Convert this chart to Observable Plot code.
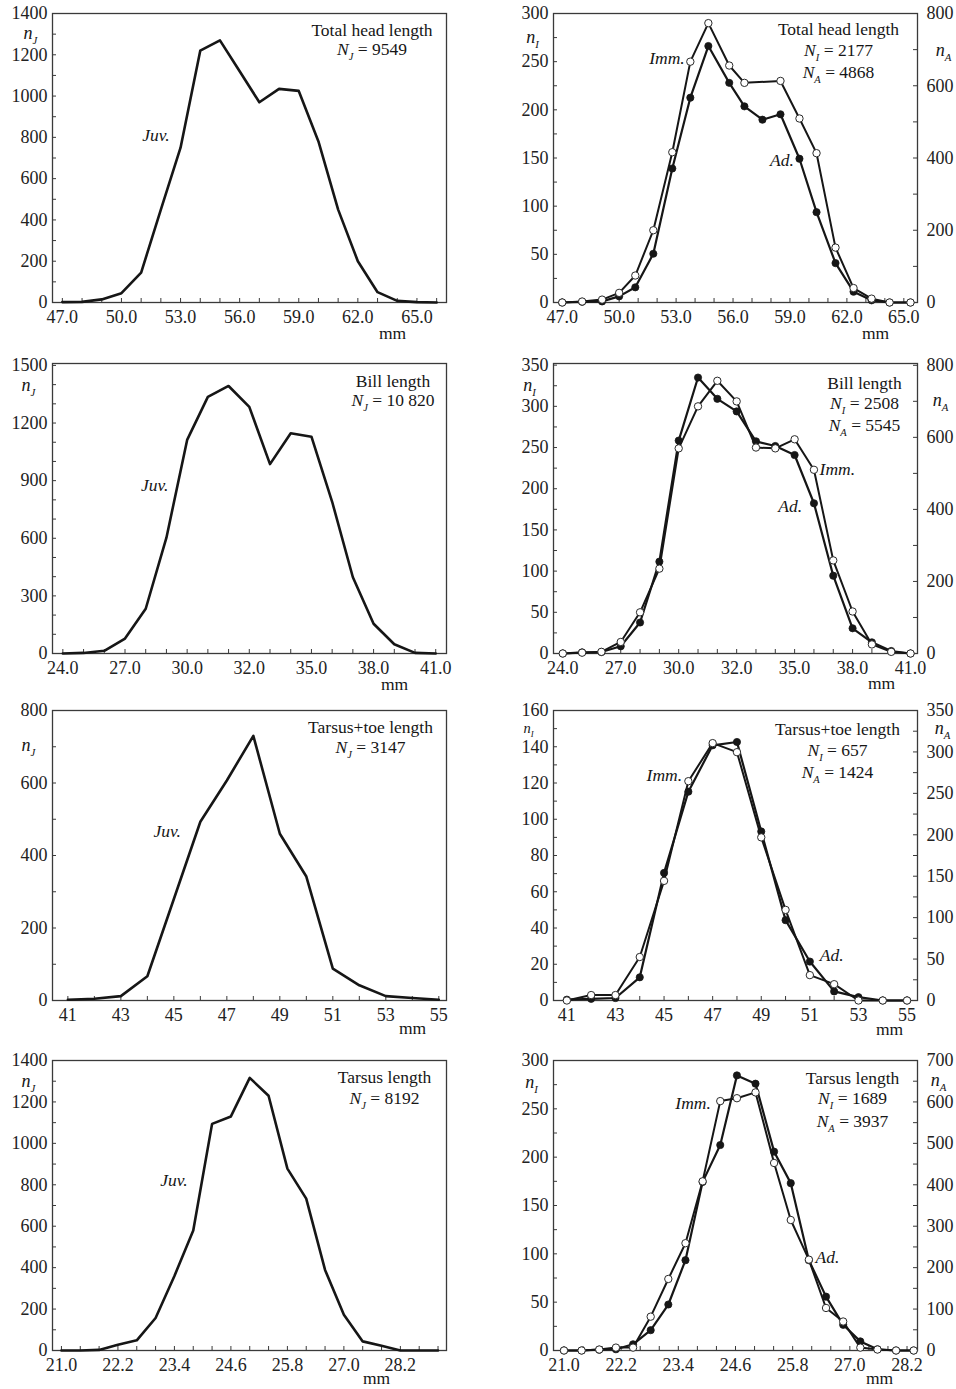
<!DOCTYPE html>
<html>
<head>
<meta charset="utf-8">
<script src="https://cdn.jsdelivr.net/npm/d3@7"></script>
<script src="https://cdn.jsdelivr.net/npm/@observablehq/plot@0.6"></script>
<style>
html, body { margin: 0; padding: 0; background: #fff; overflow: hidden; }
#chart { position: relative; width: 956px; height: 1389px; }
#chart svg { position: absolute; }
</style>
</head>
<body>
<div id="chart"></div>
<script>
// ---------------- DATA ----------------
// Total head length
const headX        = [47, 48, 49, 50, 51, 52, 53, 54, 55, 56, 57, 58, 59, 60, 61, 62, 63, 64, 65, 66];
const headJuv      = [2, 3, 15, 45, 145, 450, 750, 1220, 1270, 1120, 970, 1035, 1025, 780, 450, 200, 50, 8, 2, 0];
const headRX       = [47.0, 48.05, 49.1, 50.0, 50.85, 51.8, 52.8, 53.75, 54.7, 55.8, 56.6, 57.55, 58.5, 59.5, 60.4, 61.4, 62.35, 63.3, 64.25, 65.35];
const headImm      = [0, 1, 3, 10, 28, 75, 156, 250, 290, 246, 228, null, 230, 191, 155, 57, 15, 4, 0, 0];
const headAd       = [0, 2, 3, 17, 42, 135, 371, 567, 710, 608, 543, 506, 521, 398, 250, 109, 30, 6, 0, 0];
const headTickPos  = [47, 50, 53, 56, 59, 62, 65];
const headTickLab  = ["47.0", "50.0", "53.0", "56.0", "59.0", "62.0", "65.0"];

// Bill length (bins drawn at equal spacing, labelled every third bin)
const billX        = [0, 1, 2, 3, 4, 5, 6, 7, 8, 9, 10, 11, 12, 13, 14, 15, 16, 17, 18];
const billJuv      = [0, 3, 14, 78, 233, 603, 1112, 1336, 1393, 1284, 986, 1147, 1129, 790, 397, 155, 48, 3, 0];
const billImm      = [0, 1, 2, 14, 50, 103, 249, 300, 331, 306, 250, 249, 260, 223, 113, 51, 11, 2, 0];
const billAd       = [0, 3, 4, 20, 86, 255, 591, 766, 707, 672, 589, 576, 551, 417, 216, 70, 31, 7, 0];
const billTickPos  = [0, 3, 6, 9, 12, 15, 18];
const billTickLab  = ["24.0", "27.0", "30.0", "32.0", "35.0", "38.0", "41.0"];

// Tarsus+toe length
const toeX         = [41, 42, 43, 44, 45, 46, 47, 48, 49, 50, 51, 52, 53, 54, 55];
const toeJuv       = [2, 5, 12, 67, 280, 493, 607, 730, 460, 342, 88, 42, 12, 7, 2];
const toeImm       = [0, 3, 3, 24, 66, 121, 142, 137, 90, 50, 14, 9, 0, 0, 0];
const toeAd        = [1, 2, 3, 28, 154, 252, 308, 312, 204, 97, 47, 11, 4, 0, 0];
const toeTickPos   = [41, 43, 45, 47, 49, 51, 53, 55];
const toeTickLab   = ["41", "43", "45", "47", "49", "51", "53", "55"];

// Tarsus length
const tarsX        = [21.0, 21.4, 21.8, 22.2, 22.6, 23.0, 23.4, 23.8, 24.2, 24.6, 25.0, 25.4, 25.8, 26.2, 26.6, 27.0, 27.4, 27.8, 28.2, 28.6, 29.0];
const tarsJuv      = [0, 0, 3, 28, 49, 157, 360, 579, 1094, 1130, 1316, 1230, 878, 733, 389, 173, 44, 23, 0, 0, 0];
const tarsRX       = [21.0, 21.37, 21.74, 22.09, 22.45, 22.82, 23.19, 23.55, 23.91, 24.28, 24.63, 25.02, 25.41, 25.76, 26.14, 26.5, 26.86, 27.22, 27.58, 27.97, 28.34];
const tarsImm      = [0, 0, 1, 3, 3, 35, 74, 111, 175, 258, 261, 267, 194, 135, 94, 44, 30, 3, 1, 0, 0];
const tarsAd       = [0, 0, 2, 3, 15, 49, 111, 218, 407, 496, 664, 644, 480, 404, 218, 130, 62, 22, 3, 0, 0];
const tarsTickPos  = [21.0, 22.2, 23.4, 24.6, 25.8, 27.0, 28.2];
const tarsTickLab  = ["21.0", "22.2", "23.4", "24.6", "25.8", "27.0", "28.2"];

// Titles
const titles = {
  head: ["Total head length", "N_J = 9549", "N_I = 2177", "N_A = 4868"],
  bill: ["Bill length", "N_J = 10 820", "N_I = 2508", "N_A = 5545"],
  toe:  ["Tarsus+toe length", "N_J = 3147", "N_I = 657", "N_A = 1424"],
  tars: ["Tarsus length", "N_J = 8192", "N_I = 1689", "N_A = 3937"]
};

// ---------------- HELPERS ----------------
const FONT = "'Liberation Serif', 'Times New Roman', serif";
const INK = "#161616";
const AXC = "#3a3a3a";
const TICKFS = 18;
const chart = document.getElementById("chart");

function rows(xs, ys) {
  return xs.map((x, i) => ({x, y: ys[i]})).filter(d => d.y != null);
}
function range(a, b, s) {
  return d3.range(0, Math.round((b - a) / s) + 1).map(i => +(a + i * s).toFixed(4));
}
function place(svg, left, top) {
  svg.style.left = left + "px";
  svg.style.top = top + "px";
  chart.appendChild(svg);
  subscripts(svg);
}
function subscripts(svg) {
  const ns = "http://www.w3.org/2000/svg";
  for (const t of svg.querySelectorAll("text")) {
    const m = /^([A-Za-z])_([A-Z])(.*)$/.exec(t.textContent);
    if (!m) continue;
    const fs = parseFloat(getComputedStyle(t).fontSize) || 17;
    while (t.firstChild) t.removeChild(t.firstChild);
    const mk = (txt, attrs) => {
      const e = document.createElementNS(ns, "tspan");
      for (const k in attrs) e.setAttribute(k, attrs[k]);
      e.textContent = txt;
      t.appendChild(e);
    };
    mk(m[1], {"font-style": "italic"});
    mk(m[2], {"font-style": "italic", "font-size": (fs * 0.6).toFixed(1), "dy": (fs * 0.28).toFixed(1)});
    if (m[3]) mk(m[3], {"dy": (-fs * 0.28).toFixed(1)});
  }
}
function commonText(lines, dx, dys, size = 17.5) {
  return lines.map((s, i) => Plot.text([s], {
    frameAnchor: "top-right", dx, dy: dys[i], text: d => d,
    textAnchor: "middle", lineAnchor: "middle", fontSize: size, fill: INK
  }));
}

// geometry
const rowsGeo = [
  {frameTop: 13, frameH: 289},
  {frameTop: 363, frameH: 290},
  {frameTop: 710, frameH: 290},
  {frameTop: 1060, frameH: 290}
];
const MT = 13, MB = 40, W = 478;

function leftPanel(p) {
  const g = rowsGeo[p.row];
  const mL = 52, mR = 32;
  const frameW = W - mL - mR;
  const lab = new Map(p.xTickPos.map((v, i) => [v, p.xTickLab[i]]));
  const svg = Plot.plot({
    width: W, height: MT + g.frameH + MB,
    marginLeft: mL, marginRight: mR, marginTop: MT, marginBottom: MB,
    style: {fontFamily: FONT, fontSize: "18px", color: "#222", background: "transparent", overflow: "visible"},
    x: {domain: p.xDomain},
    y: {domain: p.yDomain},
    marks: [
      Plot.tickX(p.xMinor, {x: d => d, stroke: AXC, strokeWidth: 1, insetTop: g.frameH - 4}),
      Plot.tickY(p.yMinor, {y: d => d, stroke: AXC, strokeWidth: 1, insetRight: frameW - 4}),
      Plot.axisX(p.xTickPos, {tickSize: 0, tickPadding: 8, tickFormat: d => lab.get(d), fontSize: TICKFS, label: null}),
      Plot.axisY(p.yTicks, {tickSize: 0, tickPadding: 5, tickFormat: d => String(d), fontSize: TICKFS, label: null}),
      Plot.frame({stroke: AXC, strokeWidth: 1.3}),
      Plot.line(rows(p.x, p.juv), {x: "x", y: "y", stroke: INK, strokeWidth: 2.6}),
      Plot.text(p.labels, {x: "x", y: "y", text: "t", fontStyle: "italic", fontSize: 17.5, textAnchor: "middle", fill: INK}),
      ...commonText(p.title, p.tDx, p.tDy),
      Plot.text(["n_J"], {frameAnchor: "top-left", dx: p.nDx, dy: p.nDy, text: d => d, fontSize: 18, textAnchor: "middle", lineAnchor: "middle", fill: INK}),
      Plot.text(["mm"], {frameAnchor: "bottom-right", dx: p.mmDx, dy: p.mmDy, text: d => d, fontSize: 17.5, textAnchor: "middle", lineAnchor: "middle", fill: INK})
    ]
  });
  place(svg, 0, g.frameTop - MT);
}

function rightPanel(p) {
  const g = rowsGeo[p.row];
  const mL = 75, mR = 39;
  const frameW = W - mL - mR;
  const H = MT + g.frameH + MB;
  const lab = new Map(p.xTickPos.map((v, i) => [v, p.xTickLab[i]]));
  const base = {
    width: W, height: H,
    marginLeft: mL, marginRight: mR, marginTop: MT, marginBottom: MB,
    style: {fontFamily: FONT, fontSize: "18px", color: "#222", background: "transparent", overflow: "visible"}
  };
  // adults: right axis
  const adSvg = Plot.plot({
    ...base,
    x: {domain: p.xDomain},
    y: {domain: p.y2Domain},
    marks: [
      Plot.tickX(p.xMinor, {x: d => d, stroke: AXC, strokeWidth: 1, insetTop: g.frameH - 4}),
      Plot.tickY(p.y2Minor, {y: d => d, stroke: AXC, strokeWidth: 1, insetLeft: frameW - 4}),
      Plot.axisX(p.xTickPos, {tickSize: 0, tickPadding: 8, tickFormat: d => lab.get(d), fontSize: TICKFS, label: null}),
      Plot.axisY(p.y2Ticks, {anchor: "right", tickSize: 0, tickPadding: 9, tickFormat: d => String(d), fontSize: TICKFS, label: null}),
      Plot.frame({stroke: AXC, strokeWidth: 1.3}),
      Plot.line(rows(p.adX, p.ad), {x: "x", y: "y", stroke: INK, strokeWidth: 2.2}),
      Plot.dot(rows(p.adX, p.ad), {x: "x", y: "y", r: 3.6, fill: INK, stroke: INK, strokeWidth: 0.8}),
      Plot.text(["n_A"], {frameAnchor: "top-right", dx: p.aDx, dy: p.aDy, text: d => d, fontSize: 18, textAnchor: "middle", lineAnchor: "middle", fill: INK})
    ]
  });
  place(adSvg, W, g.frameTop - MT);
  // immatures: left axis
  const imSvg = Plot.plot({
    ...base,
    x: {domain: p.xDomain, axis: null},
    y: {domain: p.yDomain},
    marks: [
      Plot.tickY(p.yMinor, {y: d => d, stroke: AXC, strokeWidth: 1, insetRight: frameW - 4}),
      Plot.axisY(p.yTicks, {tickSize: 0, tickPadding: 5, tickFormat: d => String(d), fontSize: TICKFS, label: null}),
      Plot.line(rows(p.imX, p.imm), {x: "x", y: "y", stroke: INK, strokeWidth: 2}),
      Plot.dot(rows(p.imX, p.imm), {x: "x", y: "y", r: 3.7, fill: "white", stroke: "#2a2a2a", strokeWidth: 1}),
      Plot.text(p.labels, {x: "x", y: "y", text: "t", fontStyle: "italic", fontSize: 17.5, textAnchor: "middle", fill: INK}),
      ...commonText(p.title, p.tDx, p.tDy),
      Plot.text(["n_I"], {frameAnchor: "top-left", dx: p.nDx, dy: p.nDy, text: d => d, fontSize: p.nFs || 18, textAnchor: "middle", lineAnchor: "middle", fill: INK}),
      Plot.text(["mm"], {frameAnchor: "bottom-right", dx: p.mmDx, dy: p.mmDy, text: d => d, fontSize: 17.5, textAnchor: "middle", lineAnchor: "middle", fill: INK})
    ]
  });
  place(imSvg, W, g.frameTop - MT);
}

// ---------------- PANELS ----------------
// Row 1: Total head length
leftPanel({
  row: 0, x: headX, juv: headJuv,
  xDomain: [46.5, 66.5], yDomain: [0, 1400],
  xTickPos: headTickPos, xTickLab: headTickLab, xMinor: headX,
  yTicks: range(0, 1400, 200), yMinor: range(0, 1400, 100),
  labels: [{x: 51.75, y: 810, t: "Juv."}],
  title: [titles.head[0], titles.head[1]], tDx: -74.5, tDy: [17, 36],
  nDx: -22, nDy: 20, mmDx: -54, mmDy: 31
});
rightPanel({
  row: 0, imX: headRX, imm: headImm, adX: headRX, ad: headAd,
  xDomain: [46.54, 65.72], yDomain: [0, 300], y2Domain: [0, 800],
  xTickPos: headTickPos, xTickLab: headTickLab, xMinor: range(47, 65, 1),
  yTicks: range(0, 300, 50), yMinor: range(0, 300, 25),
  y2Ticks: range(0, 800, 200), y2Minor: range(0, 800, 100),
  labels: [{x: 52.52, y: 253, t: "Imm."}, {x: 58.58, y: 148, t: "Ad."}],
  title: [titles.head[0], titles.head[2], titles.head[3]], tDx: -79, tDy: [16, 37, 59],
  nDx: -21, nDy: 24, aDx: 26, aDy: 37, mmDx: -42, mmDy: 31
});

// Row 2: Bill length
leftPanel({
  row: 1, x: billX, juv: billJuv,
  xDomain: [-0.5, 18.52], yDomain: [0, 1510],
  xTickPos: billTickPos, xTickLab: billTickLab, xMinor: billX,
  yTicks: range(0, 1500, 300), yMinor: range(0, 1500, 100),
  labels: [{x: 4.43, y: 874, t: "Juv."}],
  title: [titles.bill[0], titles.bill[1]], tDx: -53.5, tDy: [18, 37],
  nDx: -24, nDy: 22, mmDx: -52, mmDy: 31
});
rightPanel({
  row: 1, imX: billX, imm: billImm, adX: billX, ad: billAd,
  xDomain: [-0.48, 18.36], yDomain: [0, 352], y2Domain: [0, 805],
  xTickPos: billTickPos, xTickLab: billTickLab, xMinor: billX,
  yTicks: range(0, 350, 50), yMinor: range(0, 350, 25),
  y2Ticks: range(0, 800, 200), y2Minor: range(0, 800, 100),
  labels: [{x: 14.21, y: 224, t: "Imm."}, {x: 11.77, y: 179, t: "Ad."}],
  title: [titles.bill[0], titles.bill[2], titles.bill[3]], tDx: -53, tDy: [20, 40, 62],
  nDx: -24, nDy: 22, aDx: 23, aDy: 37, mmDx: -36, mmDy: 30
});

// Row 3: Tarsus+toe length
leftPanel({
  row: 2, x: toeX, juv: toeJuv,
  xDomain: [40.42, 55.29], yDomain: [0, 800],
  xTickPos: toeTickPos, xTickLab: toeTickLab, xMinor: toeX,
  yTicks: range(0, 800, 200), yMinor: range(0, 800, 100),
  labels: [{x: 44.75, y: 467, t: "Juv."}],
  title: [titles.toe[0], titles.toe[1]], tDx: -76, tDy: [17, 37],
  nDx: -24, nDy: 35, mmDx: -34, mmDy: 28
});
rightPanel({
  row: 2, imX: toeX, imm: toeImm, adX: toeX, ad: toeAd,
  xDomain: [40.45, 55.43], yDomain: [0, 160], y2Domain: [0, 350],
  xTickPos: toeTickPos, xTickLab: toeTickLab, xMinor: toeX,
  yTicks: range(0, 160, 20), yMinor: range(0, 160, 10),
  y2Ticks: range(0, 350, 50), y2Minor: range(0, 350, 25),
  labels: [{x: 45.01, y: 124, t: "Imm."}, {x: 51.9, y: 25, t: "Ad."}],
  title: [titles.toe[0], titles.toe[2], titles.toe[3]], tDx: -80, tDy: [19, 40, 62],
  nDx: -25, nDy: 18, nFs: 14.5, aDx: 25, aDy: 18, mmDx: -28, mmDy: 29
});

// Row 4: Tarsus length
leftPanel({
  row: 3, x: tarsX, juv: tarsJuv,
  xDomain: [20.81, 29.18], yDomain: [0, 1400],
  xTickPos: tarsTickPos, xTickLab: tarsTickLab, xMinor: tarsX,
  yTicks: range(0, 1400, 200), yMinor: range(0, 1400, 100),
  labels: [{x: 23.39, y: 821, t: "Juv."}],
  title: [titles.tars[0], titles.tars[1]], tDx: -62, tDy: [17, 38],
  nDx: -24, nDy: 21, mmDx: -70, mmDy: 28
});
rightPanel({
  row: 3, imX: tarsRX, imm: tarsImm, adX: tarsRX, ad: tarsAd,
  xDomain: [20.78, 28.42], yDomain: [0, 300], y2Domain: [0, 700],
  xTickPos: tarsTickPos, xTickLab: tarsTickLab, xMinor: range(21.0, 28.2, 0.4),
  yTicks: range(0, 300, 50), yMinor: range(0, 300, 25),
  y2Ticks: range(0, 700, 100), y2Minor: range(0, 700, 50),
  labels: [{x: 23.71, y: 256, t: "Imm."}, {x: 26.53, y: 96, t: "Ad."}],
  title: [titles.tars[0], titles.tars[2], titles.tars[3]], tDx: -65, tDy: [18, 38, 61],
  nDx: -22, nDy: 22, aDx: 21, aDy: 20, mmDx: -38, mmDy: 28
});
</script>
</body>
</html>
